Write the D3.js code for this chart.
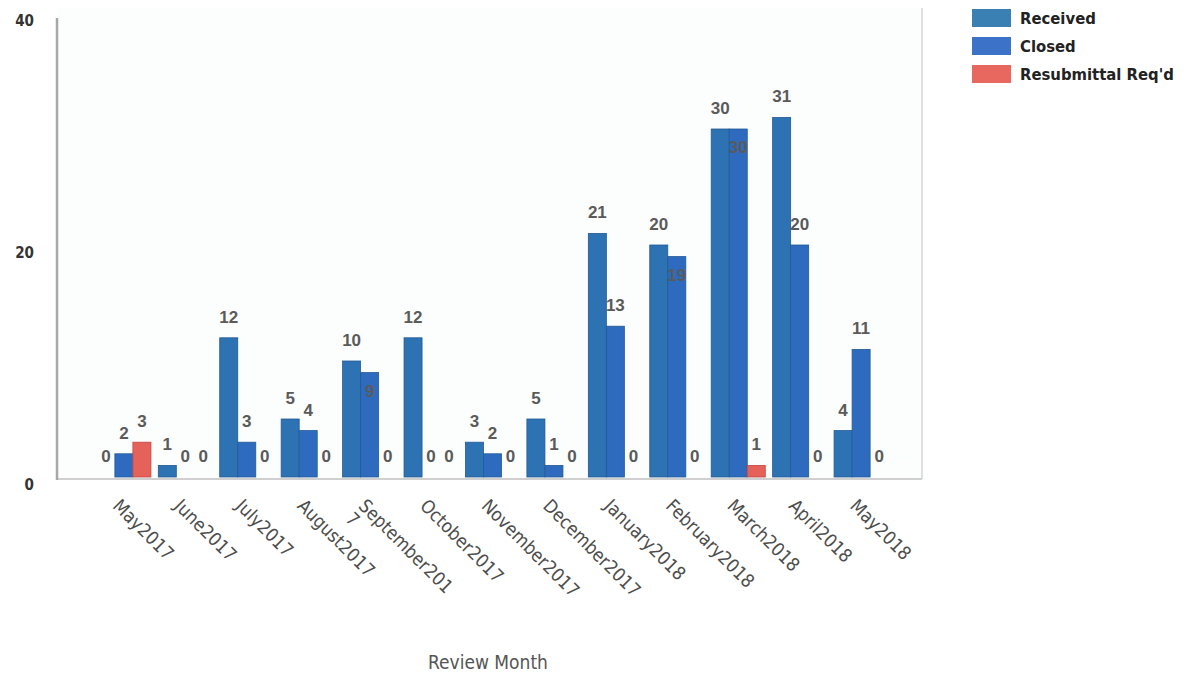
<!DOCTYPE html>
<html><head><meta charset="utf-8">
<script src="https://cdn.jsdelivr.net/npm/d3@7/dist/d3.min.js"></script>
<style>
html,body{margin:0;padding:0;background:#fff;}
svg{display:block;}
</style></head>
<body>
<svg id="chart" width="1186" height="678"></svg>
<script>
const months = ["May2017","June2017","July2017","August2017","September2017","October2017","November2017","December2017","January2018","February2018","March2018","April2018","May2018"];
const monthLabels = [["May2017"],["June2017"],["July2017"],["August2017"],["September201","7"],["October2017"],["November2017"],["December2017"],["January2018"],["February2018"],["March2018"],["April2018"],["May2018"]];
const received = [0,1,12,5,10,12,3,5,21,20,30,31,4];
const closed   = [2,0,3,4,9,0,2,1,13,19,30,20,11];
const resubmittal = [3,0,0,0,0,0,0,0,0,0,1,0,0];
const seriesNames = ["Received","Closed","Resubmittal Req'd"];
const yTicks = [0,20,40];
const colors = ["#2d72b2","#2e6bbf","#e4625a"];
const legendColors = ["#3a80b2","#3c72c8","#e8675f"];

const svg = d3.select("#chart");
const x0 = d3.scaleBand().domain(months).range([60,925]).paddingInner(0.12).paddingOuter(0.6);
const x1 = d3.scaleBand().domain(seriesNames).range([0,x0.bandwidth()]);
const y = d3.scaleLinear().domain([0,40]).range([477,13]);

// plot background & frame
svg.append("rect").attr("x",57).attr("y",8).attr("width",865).attr("height",470).attr("fill","#fcfdfd");
svg.append("line").attr("x1",922).attr("x2",922).attr("y1",8).attr("y2",479).attr("stroke","#d4d4d4").attr("stroke-width",1.5);
svg.append("line").attr("x1",57).attr("x2",922).attr("y1",479).attr("y2",479).attr("stroke","#cfcfcf").attr("stroke-width",2);
svg.append("line").attr("x1",57).attr("x2",57).attr("y1",18).attr("y2",480).attr("stroke","#a8a8a8").attr("stroke-width",2.5);

// y tick labels
const yAxis = d3.axisLeft(y).tickValues(yTicks).tickSize(0).tickPadding(0);
const yg = svg.append("g").attr("transform","translate(34,0)").call(yAxis);
yg.select(".domain").remove();
yg.selectAll("text").attr("font-family","DejaVu Sans Condensed, DejaVu Sans, sans-serif").attr("font-size",15).attr("font-weight","bold").attr("fill","#333").attr("dy","0.85em");

const data = months.map((m,i)=>({month:m, vals:[received[i],closed[i],resubmittal[i]]}));

const groups = svg.append("g").selectAll("g").data(data).join("g")
  .attr("transform",d=>`translate(${x0(d.month)},0)`);

groups.selectAll("rect").data(d=>d.vals.map((v,k)=>({k,v})).filter(o=>o.v>0)).join("rect")
  .attr("x",o=>x1(seriesNames[o.k])).attr("width",x1.bandwidth())
  .attr("y",o=>y(o.v)).attr("height",o=>y(0)-y(o.v))
  .attr("fill",o=>colors[o.k]).attr("stroke",o=>o.k===2?"#c4463f":"#225a96").attr("stroke-width",0.8);

groups.selectAll("text.val").data(d=>d.vals.map((v,k)=>({k,v,r:d.vals[0]}))).join("text")
  .attr("class","val")
  .attr("x",o=>x1(seriesNames[o.k])+x1.bandwidth()/2)
  .attr("y",o=>{
    const inside = o.k===1 && o.v>=9 && o.v<=o.r && o.v>=o.r-1;
    return inside ? y(o.v)+24 : y(o.v)-15;
  })
  .attr("text-anchor","middle")
  .attr("font-family","Liberation Sans, Arial, sans-serif").attr("font-size",17).attr("font-weight","bold")
  .attr("fill","#5a5a5a")
  .text(o=>o.v);

// x labels
const xl = svg.append("g");
months.forEach((m,i)=>{
  const ax = x0(m) + x1.bandwidth()/2 + 6, ay = 507;
  const t = xl.append("text").attr("transform",`translate(${ax},${ay}) rotate(45)`)
    .attr("font-family","DejaVu Sans Condensed, DejaVu Sans, sans-serif").attr("font-size",18.5).attr("fill","#4d4d4d");
  monthLabels[i].forEach((s,j)=>{
    t.append("tspan").attr("x",0).attr("dy", j===0?0:"1.0em").text(s);
  });
});

svg.append("text").attr("x",488).attr("y",669).attr("text-anchor","middle")
  .attr("font-family","DejaVu Sans Condensed, DejaVu Sans, sans-serif").attr("font-size",19).attr("fill","#555").text("Review Month");

// legend
const lg = svg.append("g").attr("transform","translate(972,9)");
seriesNames.forEach((s,i)=>{
  lg.append("rect").attr("x",0).attr("y",i*28).attr("width",39).attr("height",18).attr("fill",legendColors[i]);
  lg.append("text").attr("x",48).attr("y",i*28+15).attr("font-family","DejaVu Sans Condensed, DejaVu Sans, sans-serif")
    .attr("font-size",16.5).attr("font-weight","bold").attr("fill","#222").text(s);
});
</script>
</body></html>
